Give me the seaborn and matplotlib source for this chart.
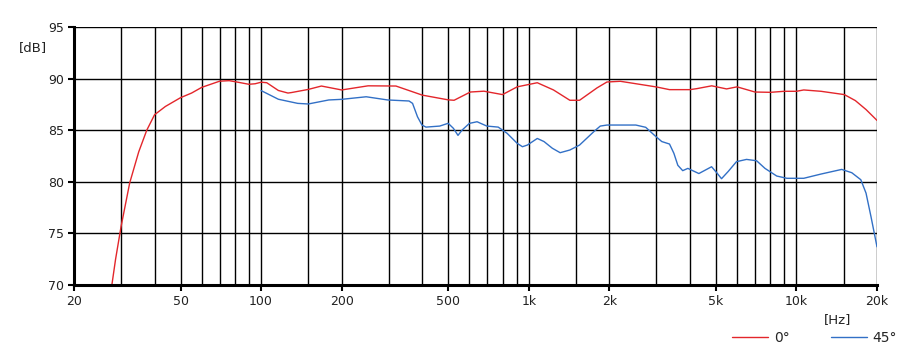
import numpy as np
import pandas as pd
import matplotlib
matplotlib.use("Agg")
import matplotlib.pyplot as plt
import seaborn as sns

# 0 degree response
freq_0 = [27.7, 28.6, 30, 32.3, 34.9, 37.4, 40, 43.9, 50, 55, 60, 70, 76, 80, 90, 95, 100, 105,
          116, 126, 130, 150, 168, 200, 251, 319, 400, 500, 526, 605, 680, 798, 905, 1076,
          1237, 1424, 1548, 1799, 1959, 2198, 3000, 3356, 4000, 4250, 4825, 5483, 6000,
          7000, 8000, 9000, 10000, 10650, 12350, 15100, 16600, 18200, 20000]
db_0 = [70.0, 72.5, 75.7, 79.9, 82.9, 85.0, 86.5, 87.3, 88.15, 88.6, 89.15, 89.75, 89.8, 89.7,
        89.45, 89.5, 89.65, 89.6, 88.85, 88.6, 88.65, 88.95, 89.28, 88.9, 89.3, 89.28, 88.4,
        87.94, 87.9, 88.7, 88.78, 88.45, 89.2, 89.6, 88.9, 87.9, 87.9, 89.1, 89.67, 89.74,
        89.19, 88.93, 88.93, 89.03, 89.3, 89.0, 89.2, 88.7, 88.67, 88.77, 88.77, 88.9, 88.77,
        88.45, 87.87, 87.0, 85.95]

# 45 degree response
freq_45 = [100, 116, 137, 150, 179, 200, 247, 297, 357, 368, 384, 399, 413, 465, 500, 523, 544,
           563, 600, 641, 697, 769, 830, 905, 947, 988, 1076, 1140, 1225, 1310, 1424, 1548,
           1750, 1850, 1960, 2512, 2735, 2950, 3140, 3356, 3485, 3605, 3760, 3930, 4320, 4820,
           5030, 5250, 5560, 5970, 6510, 7100, 7630, 8440, 9210, 10650, 12350, 14760, 16100,
           17400, 18200, 19000, 20000]
db_45 = [88.84, 88.0, 87.6, 87.54, 87.93, 87.99, 88.24, 87.93, 87.83, 87.6, 86.3, 85.5, 85.3,
         85.4, 85.67, 85.18, 84.5, 85.0, 85.66, 85.82, 85.4, 85.3, 84.7, 83.73, 83.4, 83.56,
         84.2, 83.9, 83.25, 82.82, 83.08, 83.56, 84.86, 85.4, 85.5, 85.5, 85.28, 84.5, 83.9,
         83.66, 82.76, 81.6, 81.08, 81.3, 80.8, 81.46, 80.9, 80.3, 81.0, 81.95, 82.17, 82.04,
         81.3, 80.56, 80.34, 80.34, 80.75, 81.2, 80.88, 80.2, 78.9, 76.6, 73.7]

x_major = [20, 50, 100, 200, 500, 1000, 2000, 5000, 10000, 20000]
x_labels = ["20", "50", "100", "200", "500", "1k", "2k", "5k", "10k", "20k"]
x_minor = [30, 40, 60, 70, 80, 90, 150, 300, 400, 600, 700, 800, 900, 1500, 3000, 4000,
           6000, 7000, 8000, 9000, 15000]
y_ticks = [70, 75, 80, 85, 90, 95]

df = pd.concat([
    pd.DataFrame({"f": freq_0, "dB": db_0, "s": "0°"}),
    pd.DataFrame({"f": freq_45, "dB": db_45, "s": "45°"}),
])

sns.set_theme(style="white")
plt.rcParams["font.family"] = ["DejaVu Sans"]
plt.rcParams["font.size"] = 9

fig = plt.figure(figsize=(9.04, 3.5), dpi=100)
ax = fig.add_axes([74 / 904, 1 - 285 / 350, (877 - 74) / 904, (285 - 27) / 350])

sns.lineplot(data=df, x="f", y="dB", hue="s", palette=["#e3262b", "#3270c6"],
             linewidth=1.0, ax=ax, sort=False, estimator=None, legend=True)

ax.set_xscale("log")
ax.set_xlim(20, 20000)
ax.set_ylim(70, 95)
ax.set_xticks(x_major)
ax.set_xticklabels(x_labels)
ax.set_xticks(x_minor, minor=True)
ax.set_xticklabels([], minor=True)
ax.set_yticks(y_ticks)
ax.set_yticklabels([str(v) for v in y_ticks])
ax.grid(True, which="both", color="black", linewidth=1.0)
ax.set_axisbelow(True)
ax.tick_params(axis="both", which="major", direction="out", length=4, width=1.5,
               color="black", labelsize=9, labelcolor="#222222", pad=3, bottom=True, left=True)
ax.tick_params(axis="x", which="minor", length=0)
for side in ["top", "right"]:
    ax.spines[side].set_visible(False)
for side in ["left", "bottom"]:
    ax.spines[side].set_linewidth(2.2)
    ax.spines[side].set_color("black")
ax.set_xlabel("")
ax.set_ylabel("")

fig.text(33 / 904, 1 - 48 / 350, "[dB]", ha="center", va="center", fontsize=9.5, color="#222222")
fig.text(838 / 904, 1 - 320 / 350, "[Hz]", ha="center", va="center", fontsize=9.5, color="#222222")

handles, labels = ax.get_legend_handles_labels()
ax.legend(handles, labels, loc="center left", bbox_to_anchor=(732 / 904, 1 - 338 / 350),
          bbox_transform=fig.transFigure, ncol=2, frameon=False, fontsize=10,
          handlelength=2.6, handletextpad=0.4, columnspacing=3.0, borderpad=0,
          borderaxespad=0)

fig.savefig("out.png", dpi=100, facecolor="white")
